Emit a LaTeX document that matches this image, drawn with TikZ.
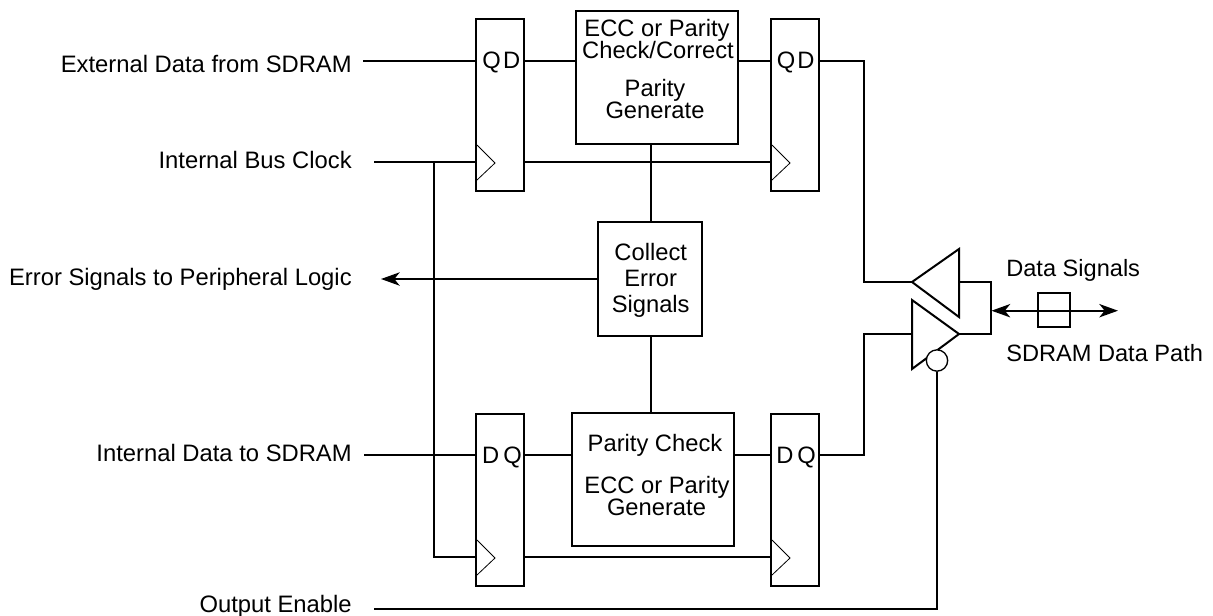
\documentclass[tikz,border=0pt]{standalone}
\usepackage{fontspec}
\setmainfont{Liberation Sans}
\usetikzlibrary{arrows.meta}
\tikzset{
  wire/.style={line width=1.5pt,line cap=butt,line join=miter},
  blockbox/.style={draw,line width=1.5pt,rectangle,inner sep=0pt,minimum width=#1},
  blocktext/.style={inner sep=0pt,anchor=base,font=\fontsize{17.8}{20}\selectfont},
  sidelabel/.style={inner sep=0pt,anchor=base east,font=\fontsize{17.85}{20}\selectfont},
  freelabel/.style={inner sep=0pt,anchor=base west,font=\fontsize{17.7}{20}\selectfont},
  pinlabel/.style={inner sep=0pt,anchor=base,font=\fontsize{17.8}{20}\selectfont},
  clocktip/.style={line width=0.6pt},
  sigarrow/.style={line width=1.5pt,-{Stealth[length=14pt,width=10pt,inset=4pt]}},
  bothways/.style={line width=1.5pt,{Stealth[length=14pt,width=10pt,inset=4pt]}-{Stealth[length=14pt,width=10pt,inset=4pt]}}
}
\begin{document}
\begin{tikzpicture}[x=0.75pt,y=-0.75pt]
\useasboundingbox (0,0) rectangle (1213,615);
% flip-flops
\node[blockbox=36pt,minimum height=129pt] (ff1) at (500,105.3) {};
\node[blockbox=36pt,minimum height=129pt] (ff2) at (795,105.3) {};
\node[blockbox=36pt,minimum height=129pt] (ff3) at (500,500) {};
\node[blockbox=36pt,minimum height=129pt] (ff4) at (795,500) {};
% logic blocks
\node[blockbox=121.5pt,minimum height=99.5pt] (chk) at (656.7,77.5) {};
\node[blockbox=121.5pt,minimum height=99.5pt] (gen) at (653,479.5) {};
\node[blockbox=78.5pt,minimum height=86pt] (col) at (650,279) {};
% block text
\node[blocktext] (t1a) at (657,36.7) {ECC or Parity};
\node[blocktext] (t1b) at (658,58.7) {Check/Correct};
\node[blocktext] (t2a) at (655,96.7) {Parity};
\node[blocktext] (t2b) at (655,118) {Generate};
\node[blocktext] (t3) at (655,451.7) {Parity Check};
\node[blocktext] (t4a) at (657,493.3) {ECC or Parity};
\node[blocktext] (t4b) at (656.5,515) {Generate};
\node[blocktext] (t5a) at (650.7,260) {Collect};
\node[blocktext] (t5b) at (650.7,286.7) {Error};
\node[blocktext] (t5c) at (650.7,312.3) {Signals};
% flip-flop pins
\node[pinlabel] (q1) at (491.7,68.7) {Q};
\node[pinlabel] (d1) at (511.7,68.7) {D};
\node[pinlabel] (q2) at (786,68.7) {Q};
\node[pinlabel] (d2) at (806,68.7) {D};
\node[pinlabel] (d3) at (490.7,463.3) {D};
\node[pinlabel] (q3) at (512.7,463.3) {Q};
\node[pinlabel] (d4) at (785,463.3) {D};
\node[pinlabel] (q4) at (806.7,463.3) {Q};
% clock marks
\draw[clocktip] (477,145) -- (495,163) -- (477,180);
\draw[clocktip] (772,145) -- (790,163) -- (772,180);
\draw[clocktip] (477,540) -- (495,558) -- (477,575);
\draw[clocktip] (772,540) -- (790,558) -- (772,575);
% labels
\node[sidelabel] (l1) at (352,72) {External Data from SDRAM};
\node[sidelabel] (l2) at (352,168.5) {Internal Bus Clock};
\node[sidelabel] (l3) at (352,285) {Error Signals to Peripheral Logic};
\node[sidelabel] (l4) at (352,461.7) {Internal Data to SDRAM};
\node[sidelabel] (l5) at (352,612) {Output Enable};
\node[freelabel] (l6) at (1006,276.7) {Data Signals};
\node[freelabel] (l7) at (1006,361.7) {SDRAM Data Path};
% free ends and junctions
\coordinate (in1) at (363,60.7);
\coordinate (in2) at (374,161.7);
\coordinate (in3) at (364,454.5);
\coordinate (in4) at (374,609);
\coordinate (jt) at (434,161.7);
\coordinate (jb) at (434,557);
\coordinate (errend) at (381,279);
% tristate buffers
\coordinate (b1a) at (912,282);
\coordinate (b1t) at (959,249);
\coordinate (b1b) at (959,317);
\coordinate (b1o) at (959,282);
\coordinate (b2t) at (912,300);
\coordinate (b2b) at (912,369);
\coordinate (b2a) at (959,334);
\coordinate (b2i) at (912,334);
\draw[wire] (b1a) -- (b1t) -- (b1b) -- cycle;
\draw[wire] (b2t) -- (b2a) -- (b2b) -- cycle;
\node[draw,circle,line width=1pt,minimum size=16pt,inner sep=0pt,fill=white] (bub) at (937,360.5) {};
% data connectors
\draw[wire] (in1) -- (ff1.west |- in1);
\draw[wire] (ff1.east |- in1) -- (chk.west |- in1);
\draw[wire] (chk.east |- in1) -- (ff2.west |- in1);
\draw[wire] (ff2.east |- in1) -- (864,60.7) -- (864,282) -- (b1a);
\draw[wire] (in3) -- (ff3.west |- in3);
\draw[wire] (ff3.east |- in3) -- (gen.west |- in3);
\draw[wire] (gen.east |- in3) -- (ff4.west |- in3);
\draw[wire] (ff4.east |- in3) -- (864,454.5) -- (864,334) -- (b2i);
% clocks
\draw[wire] (in2) -- (ff1.west |- in2);
\draw[wire] (ff1.east |- in2) -- (ff2.west |- in2);
\draw[wire] (jt) -- (434,558);
\draw[wire] (jb) -- (ff3.west |- jb);
\draw[wire] (ff3.east |- jb) -- (ff4.west |- jb);
% error collection
\coordinate (colu) at (651,144);
\coordinate (cold) at (651,413);
\draw[wire] (colu) -- (colu |- col.north);
\draw[wire] (cold |- col.south) -- (cold);
\draw[sigarrow] (col.west) -- (errend);
% output enable
\draw[wire] (in4) -- (937,609) -- (bub.south);
% bus
\draw[wire] (b1o) -- (991,282) -- (991,334) -- (b2a);
\coordinate (busl) at (991.5,310.7);
\coordinate (busr) at (1118,310.7);
\draw[bothways] (busl) -- (busr);
\node[draw,rectangle,line width=1.5pt,minimum width=24pt,minimum height=25.5pt,inner sep=0pt] (pad) at (1054,309.7) {};
\end{tikzpicture}
\end{document}
